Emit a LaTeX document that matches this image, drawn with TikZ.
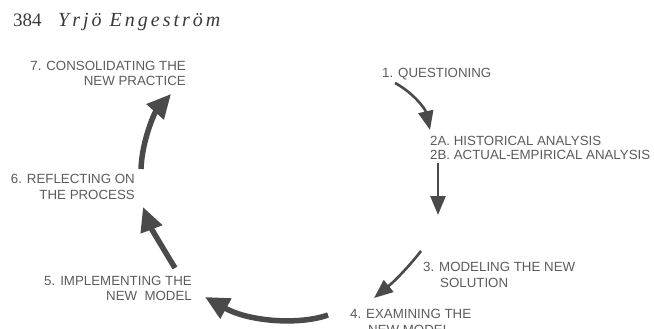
\documentclass[tikz,border=0pt]{standalone}
\usepackage{fontspec}
\setmainfont{Liberation Serif}
\newfontfamily\labfont{Liberation Sans}
\newfontfamily\hdfont[LetterSpace=15]{Liberation Serif}
\usetikzlibrary{arrows.meta}
\definecolor{ink}{HTML}{4A4A4A}
\definecolor{txt}{HTML}{5C5C5C}
\definecolor{hdink}{HTML}{3A3A3A}
\begin{document}
\begin{tikzpicture}[x=1pt,y=-1pt,
  lab/.style={inner sep=0pt, text=txt, font=\labfont\fontsize{13.3}{15}\selectfont},
  bigarrow/.style={draw=ink, line width=5.5pt, -{Triangle[length=24pt,width=22pt]}},
  smallarrow/.style={draw=ink, line width=2.6pt, -{Triangle[length=19pt,width=15pt]}}]
\useasboundingbox (0,0) rectangle (654,329);
\clip (0,0) rectangle (654,329);
\fill[white] (0,0) rectangle (654,329);
% header
\node[inner sep=0pt, anchor=base west, text=hdink, font=\fontsize{19}{21}\selectfont] (pg) at (13,26.5) {384};
\node[inner sep=0pt, anchor=base west, text=hdink, font=\hdfont\itshape\fontsize{20}{22}\selectfont] (au) at (58,26.5) {Yrjö Engeström};
% labels
\node[lab, anchor=base east] (s7a) at (186,71) {7. CONSOLIDATING THE};
\node[lab, anchor=base east] (s7b) at (186,85.5) {NEW PRACTICE};
\node[lab, anchor=base west] (s1) at (382,77.5) {1. QUESTIONING};
\node[lab, anchor=base west] (s2a) at (430,146) {2A. HISTORICAL ANALYSIS};
\node[lab, anchor=base west] (s2b) at (430,160) {2B. ACTUAL-EMPIRICAL ANALYSIS};
\node[lab, anchor=base east] (s6a) at (135,183.5) {6. REFLECTING ON};
\node[lab, anchor=base east] (s6b) at (135,199.5) {THE PROCESS};
\node[lab, anchor=base west] (s3a) at (423,271.5) {3. MODELING THE NEW};
\node[lab, anchor=base west] (s3b) at (440,287) {SOLUTION};
\node[lab, anchor=base east] (s5a) at (192,285) {5. IMPLEMENTING THE};
\node[lab, anchor=base east] (s5b) at (192,300.5) {NEW\hspace{0.55em}MODEL};
\node[lab, anchor=base west] (s4a) at (350,318) {4. EXAMINING THE};
\node[lab, anchor=base west] (s4b) at (368,334) {NEW MODEL};
% arrow end points
\coordinate (a1s) at (395,83);   \coordinate (a1e) at (430,130);
\coordinate (a2s) at (438,163);  \coordinate (a2e) at (438,215);
\coordinate (a3s) at (421,251);  \coordinate (a3e) at (374,298);
\coordinate (a4s) at (328,315);  \coordinate (a4e) at (205,297);
\coordinate (a5s) at (175,268);  \coordinate (a5e) at (143,207);
\coordinate (a6s) at (141,169);  \coordinate (a6e) at (171,94);
% arrows
\draw[smallarrow] (a1s) .. controls (412,92) and (425,108) .. (a1e);
\draw[smallarrow] (a2s) -- (a2e);
\draw[smallarrow] (a3s) .. controls (411,264) and (396,280) .. (a3e);
\draw[bigarrow] (a4s) .. controls (300,325) and (250,322) .. (a4e);
\draw[bigarrow] (a5s) .. controls (164,250) and (151,228) .. (a5e);
\draw[bigarrow] (a6s) .. controls (142,140) and (155,112) .. (a6e);
\end{tikzpicture}
\end{document}
